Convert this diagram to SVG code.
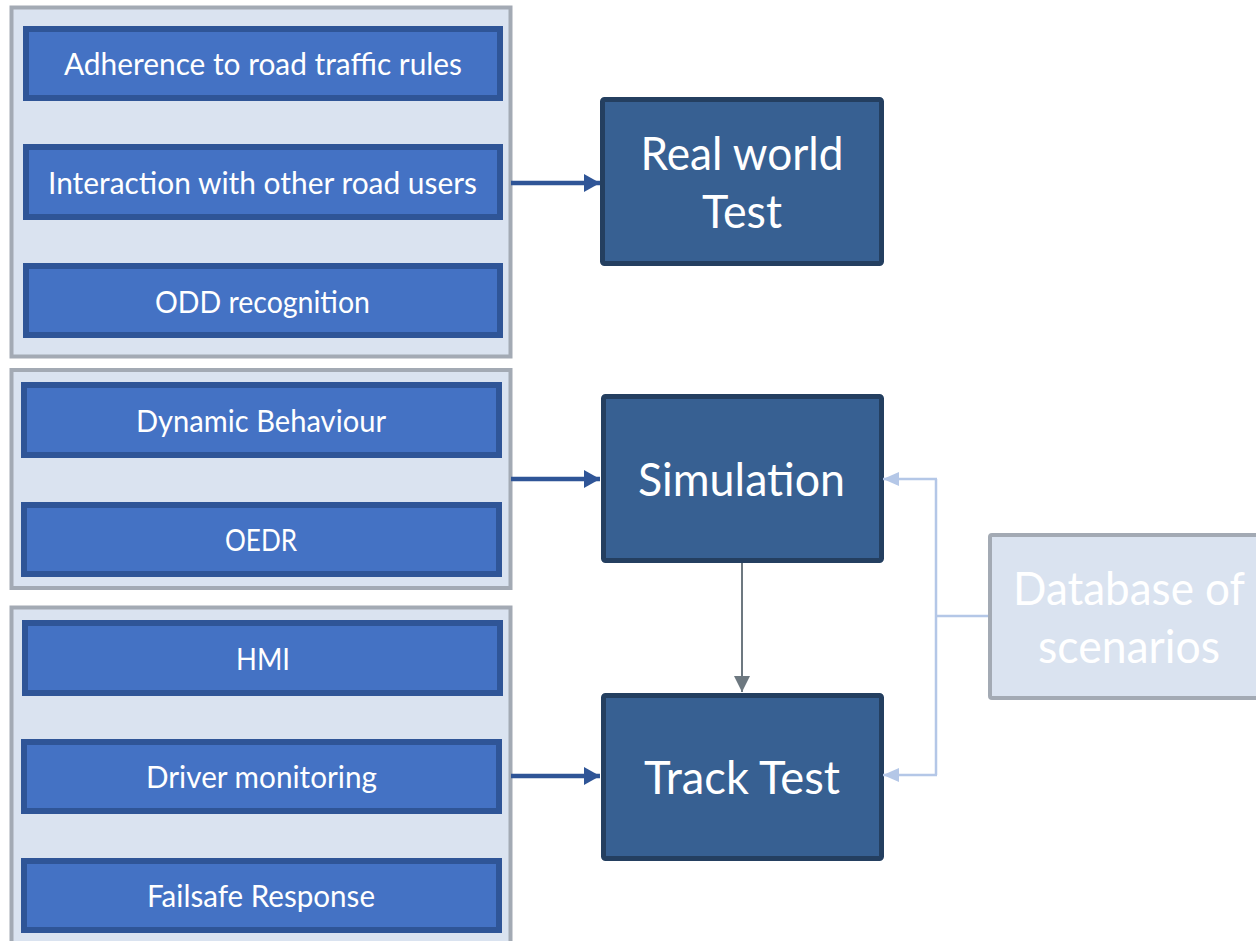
<svg xmlns="http://www.w3.org/2000/svg" width="1256" height="941" viewBox="0 0 1256 941">
<style>
.grp{fill:#DAE3F0;stroke:#A3AAB4;stroke-width:4}
.item{fill:#4472C4;stroke:#2F5597;stroke-width:6}
.main{fill:#376092;stroke:#243F60;stroke-width:5}
.t{font-family:Lato,"Open Sans","Liberation Sans",sans-serif;fill:#FFFFFF;text-anchor:middle}
.s{font-size:31px}
.l{font-size:46px}
.blue{stroke:#2F5597;stroke-width:4.5;fill:none}
.gray{stroke:#6D7880;stroke-width:2;fill:none}
.light{stroke:#B4C7E7;stroke-width:2.5;fill:none}
</style>
<defs>
<marker id="mb" markerUnits="userSpaceOnUse" markerWidth="16" markerHeight="18" refX="16" refY="9" orient="auto"><path d="M0,0 L16,9 L0,18 Z" fill="#2F5597"/></marker>
<marker id="mg" markerUnits="userSpaceOnUse" markerWidth="16" markerHeight="16" refX="16" refY="8" orient="auto"><path d="M0,0 L16,8 L0,16 Z" fill="#6D7880"/></marker>
<marker id="ml" markerUnits="userSpaceOnUse" markerWidth="16" markerHeight="14" refX="16" refY="7" orient="auto"><path d="M0,0 L16,7 L0,14 Z" fill="#B4C7E7"/></marker>
</defs>
<g id="group-real">
<rect class="grp" x="11.5" y="7.5" width="499" height="349"/>
</g>
<g id="group-sim">
<rect class="grp" x="11.5" y="370" width="499" height="218"/>
</g>
<g id="group-track">
<rect class="grp" x="11.5" y="607.5" width="499" height="345"/>
</g>
<g id="adherence"><rect class="item" x="26" y="29" width="474" height="69"/><text class="t s" x="263" y="75" textLength="398" lengthAdjust="spacingAndGlyphs">Adherence to road traffic rules</text></g>
<g id="interaction"><rect class="item" x="26" y="147" width="474" height="70"/><text class="t s" x="262.5" y="194" textLength="429" lengthAdjust="spacingAndGlyphs">Interaction with other road users</text></g>
<g id="odd"><rect class="item" x="26" y="266" width="474" height="69"/><text class="t s" x="262.5" y="313" textLength="215" lengthAdjust="spacingAndGlyphs">ODD recognition</text></g>
<g id="dynamic"><rect class="item" x="24" y="385" width="475" height="70"/><text class="t s" x="261" y="432" textLength="250" lengthAdjust="spacingAndGlyphs">Dynamic Behaviour</text></g>
<g id="oedr"><rect class="item" x="24" y="505" width="475" height="69"/><text class="t s" x="261" y="551" textLength="72" lengthAdjust="spacingAndGlyphs">OEDR</text></g>
<g id="hmi"><rect class="item" x="25" y="623" width="475" height="70"/><text class="t s" x="263" y="670" textLength="54" lengthAdjust="spacingAndGlyphs">HMI</text></g>
<g id="driver"><rect class="item" x="24" y="742" width="475" height="69"/><text class="t s" x="261.5" y="788" textLength="231" lengthAdjust="spacingAndGlyphs">Driver monitoring</text></g>
<g id="failsafe"><rect class="item" x="24" y="861" width="475" height="69"/><text class="t s" x="261" y="907" textLength="228" lengthAdjust="spacingAndGlyphs">Failsafe Response</text></g>
<g id="realworld"><rect class="main" x="602.5" y="99.5" width="279" height="164" rx="2"/><text class="t l" x="742" y="170" textLength="203" lengthAdjust="spacingAndGlyphs">Real world</text><text class="t l" x="742" y="228" textLength="80" lengthAdjust="spacingAndGlyphs">Test</text></g>
<g id="simulation"><rect class="main" x="603.5" y="396.5" width="278" height="164" rx="2"/><text class="t l" x="741.5" y="496" textLength="207" lengthAdjust="spacingAndGlyphs">Simulation</text></g>
<g id="tracktest"><rect class="main" x="603.5" y="695.5" width="278" height="163" rx="2"/><text class="t l" x="742" y="794" textLength="196" lengthAdjust="spacingAndGlyphs">Track Test</text></g>
<g id="database"><rect class="grp" x="990" y="535" width="290" height="163" rx="2"/><text class="t l" x="1129" y="605" textLength="232" lengthAdjust="spacingAndGlyphs">Database of</text><text class="t l" x="1129" y="663" textLength="182" lengthAdjust="spacingAndGlyphs">scenarios</text></g>
<g id="connectors">
<path class="blue" d="M511,183 L600,183" marker-end="url(#mb)"/>
<path class="blue" d="M511,479 L600,479" marker-end="url(#mb)"/>
<path class="blue" d="M511,776 L600,776" marker-end="url(#mb)"/>
<path class="gray" d="M742,563 L742,692" marker-end="url(#mg)"/>
<path class="light" d="M988,616 L936,616"/>
<path class="light" d="M936,479 L936,775"/>
<path class="light" d="M937,479 L883,479" marker-end="url(#ml)"/>
<path class="light" d="M937,775 L883,775" marker-end="url(#ml)"/>
</g>
</svg>
